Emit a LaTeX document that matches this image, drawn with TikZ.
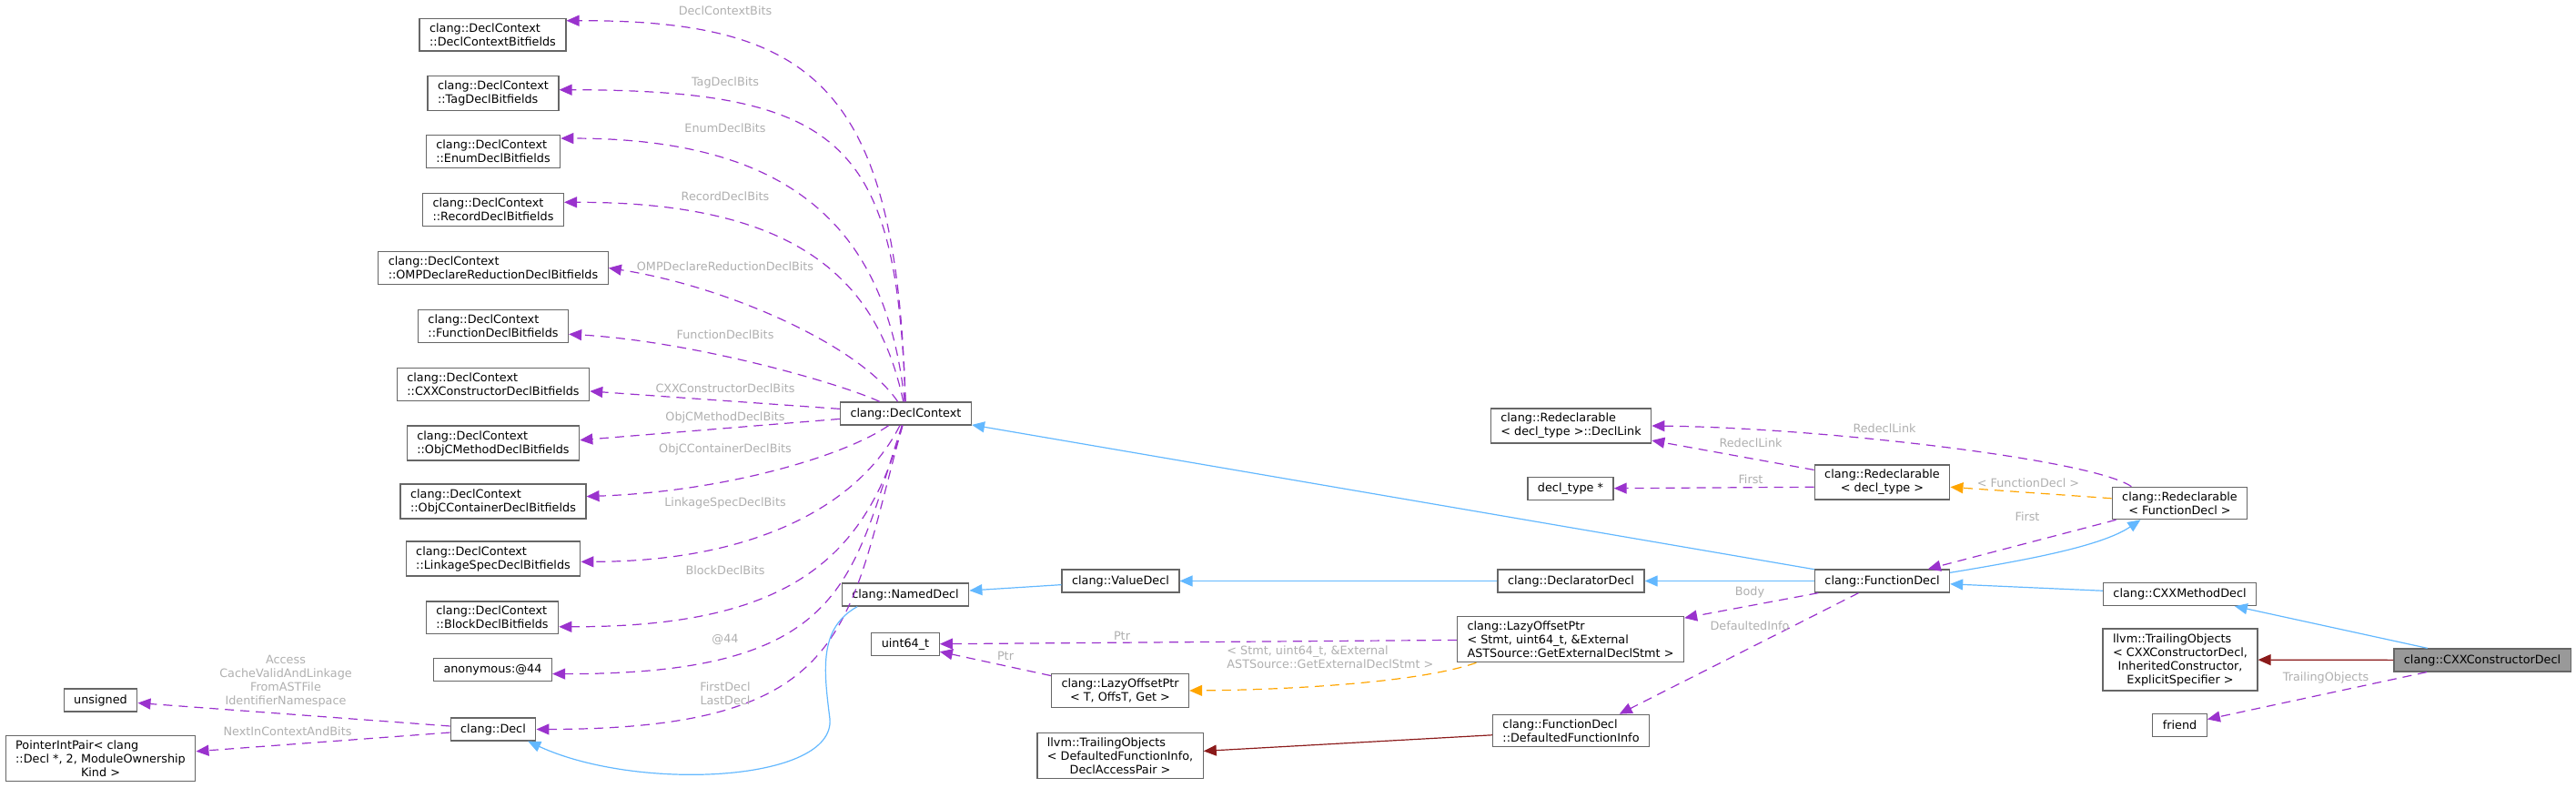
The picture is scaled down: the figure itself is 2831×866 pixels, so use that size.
\documentclass[tikz,border=0pt]{standalone}
\usepackage{fontspec}
\setmainfont{DejaVu Sans}
\usetikzlibrary{arrows.meta}
\definecolor{boxline}{RGB}{102,102,102}
\definecolor{hlfill}{RGB}{153,153,153}
\definecolor{usecol}{RGB}{154,50,205}
\definecolor{inhcol}{RGB}{99,184,255}
\definecolor{privcol}{RGB}{139,26,26}
\definecolor{tmplcol}{RGB}{255,165,0}
\definecolor{lblgray}{RGB}{175,175,175}
\newcommand{\midline}[1]{\hfill #1\hfill\null}
\begin{document}
\begin{tikzpicture}[x=0.5pt, y=-0.5pt,
    cls/.style={draw=boxline, line width=0.65pt, fill=white, font=\fontsize{6.4}{7.5}\selectfont,
      inner xsep=5.5pt, inner ysep=2.6pt, minimum height=12.5pt},
    hl/.style={cls, fill=hlfill},
    lbl/.style={text=lblgray, font=\fontsize{6.4}{7.5}\selectfont, inner sep=0pt},
    tip/.style={-{Triangle[length=7pt, width=6pt]}},
    usage/.style={tip, draw=usecol, line width=0.6pt, dash pattern=on 5pt off 3.5pt},
    inh/.style={tip, draw=inhcol, line width=0.6pt},
    priv/.style={tip, draw=privcol, line width=0.6pt},
    tmpl/.style={tip, draw=tmplcol, line width=0.6pt, dash pattern=on 5pt off 3.5pt}
  ]
  \useasboundingbox (0,0) rectangle (2831,866);

  \node[cls, align=left] (dcbf) at (541.5,38.5) {clang::DeclContext\\::DeclContextBitfields};
  \node[cls, align=left] (tagbf) at (542,102.5) {clang::DeclContext\\::TagDeclBitfields};
  \node[cls, align=left] (enumbf) at (542,166.5) {clang::DeclContext\\::EnumDeclBitfields};
  \node[cls, align=left] (recbf) at (542,230.5) {clang::DeclContext\\::RecordDeclBitfields};
  \node[cls, align=left] (ompbf) at (542,294.5) {clang::DeclContext\\::OMPDeclareReductionDeclBitfields};
  \node[cls, align=left] (funbf) at (542,358.5) {clang::DeclContext\\::FunctionDeclBitfields};
  \node[cls, align=left] (ctorbf) at (542,422.5) {clang::DeclContext\\::CXXConstructorDeclBitfields};
  \node[cls, align=left] (objcmbf) at (542,487) {clang::DeclContext\\::ObjCMethodDeclBitfields};
  \node[cls, align=left] (objccbf) at (542,551) {clang::DeclContext\\::ObjCContainerDeclBitfields};
  \node[cls, align=left] (linkbf) at (542,614) {clang::DeclContext\\::LinkageSpecDeclBitfields};
  \node[cls, align=left] (blockbf) at (541,678.5) {clang::DeclContext\\::BlockDeclBitfields};
  \node[cls] (anon) at (541.5,736) {anonymous:@44};
  \node[cls] (decl) at (542,801.5) {clang::Decl};
  \node[cls] (unsig) at (110.5,769.5) {unsigned};
  \node[cls, align=left] (pip) at (110.5,833.5) {PointerIntPair< clang\\::Decl *, 2, ModuleOwnership\\\midline{Kind >}};

  \node[cls] (dc) at (995.5,454.5) {clang::DeclContext};
  \node[cls] (named) at (995,653.5) {clang::NamedDecl};
  \node[cls] (u64) at (995,708) {uint64\_t};
  \node[cls] (value) at (1231.5,638.5) {clang::ValueDecl};
  \node[cls, align=center] (lopt) at (1231,759) {clang::LazyOffsetPtr\\< T, OffsT, Get >};
  \node[cls, align=left] (trdfi) at (1231,830.5) {llvm::TrailingObjects\\< DefaultedFunctionInfo,\\\midline{DeclAccessPair >}};

  \node[cls, align=left] (dlink) at (1726.5,468) {clang::Redeclarable\\< decl\_type >::DeclLink};
  \node[cls] (dtype) at (1726,537) {decl\_type *};
  \node[cls] (declr) at (1726.5,638.5) {clang::DeclaratorDecl};
  \node[cls, align=left] (lopstmt) at (1726,702.5) {clang::LazyOffsetPtr\\< Stmt, uint64\_t, \&External\\ASTSource::GetExternalDeclStmt >};
  \node[cls, align=left] (dfi) at (1726.5,803) {clang::FunctionDecl\\::DefaultedFunctionInfo};

  \node[cls, align=center] (redt) at (2068.5,530) {clang::Redeclarable\\< decl\_type >};
  \node[cls] (fd) at (2068.5,638.5) {clang::FunctionDecl};
  \node[cls, align=center] (redfd) at (2395.5,553) {clang::Redeclarable\\< FunctionDecl >};
  \node[cls] (cxxm) at (2395.5,653) {clang::CXXMethodDecl};
  \node[cls, align=left] (trctor) at (2396,725) {llvm::TrailingObjects\\< CXXConstructorDecl,\\\midline{InheritedConstructor,}\\\midline{ExplicitSpecifier >}};
  \node[cls] (friend) at (2395.5,797) {friend};
  \node[hl] (ctor) at (2728,725.5) {clang::CXXConstructorDecl};

  \draw[usage] (dc) .. controls (985,100) and (900,22) .. (dcbf.11);
  \draw[usage] (dc) .. controls (985,160) and (930,99) .. (tagbf.3);
  \draw[usage] (dc) .. controls (975,260) and (880,152) .. (enumbf.11);
  \draw[usage] (dc) .. controls (965,310) and (880,222) .. (recbf.6);
  \draw[usage] (dc) .. controls (945,380) and (800,315) .. (ompbf.east);
  \draw[usage] (dc) .. controls (920,420) and (760,375) .. (funbf.-6);
  \draw[usage] (dc) -- (ctorbf.-4);
  \draw[usage] (dc) -- (objcmbf.2);
  \draw[usage] (dc) .. controls (930,500) and (800,540) .. (objccbf.3);
  \draw[usage] (dc) .. controls (945,555) and (830,617) .. (linkbf.-2);
  \draw[usage] (dc) .. controls (950,620) and (860,689) .. (blockbf.-8);
  \draw[usage] (dc) .. controls (935,640) and (930,741) .. (anon.-4);
  \draw[usage] (dc) .. controls (930,690) and (940,801) .. (decl.east);
  \draw[usage] (decl) -- (unsig);
  \draw[usage] (decl) -- (pip);

  \node[lbl] (lDCB) at (797,12) {DeclContextBits};
  \node[lbl] (lTag) at (797,91) {TagDeclBits};
  \node[lbl] (lEnum) at (797,141) {EnumDeclBits};
  \node[lbl] (lRec) at (797,216) {RecordDeclBits};
  \node[lbl] (lOMP) at (797,293) {OMPDeclareReductionDeclBits};
  \node[lbl] (lFun) at (797,368) {FunctionDeclBits};
  \node[lbl] (lCtor) at (797,427) {CXXConstructorDeclBits};
  \node[lbl] (lObjM) at (797,459) {ObjCMethodDeclBits};
  \node[lbl] (lObjC) at (797,494) {ObjCContainerDeclBits};
  \node[lbl] (lLink) at (797,553) {LinkageSpecDeclBits};
  \node[lbl] (lBlock) at (797,627) {BlockDeclBits};
  \node[lbl] (lAnon) at (797,703) {@44};
  \node[lbl, align=center] (lFirstD) at (797,762) {FirstDecl\\LastDecl};
  \node[lbl, align=center] (lAcc) at (314,749) {Access\\CacheValidAndLinkage\\FromASTFile\\IdentifierNamespace};
  \node[lbl] (lNext) at (316,804) {NextInContextAndBits};

  \draw[inh] (named.-166) .. controls (900,690) and (905,735) .. (912,790)
    .. controls (918,860) and (700,870) .. (decl.-19);
  \draw[inh] (value) -- (named);
  \draw[inh] (declr) -- (value);
  \draw[inh] (fd) -- (declr);
  \draw[inh] (fd) -- (dc);
  \draw[inh] (fd.7) .. controls (2230,615) and (2310,600) .. (redfd.-157);
  \draw[inh] (cxxm) -- (fd);
  \draw[inh] (ctor) -- (cxxm);

  \draw[priv] (ctor) -- (trctor);
  \draw[priv] (dfi) -- (trdfi);

  \draw[tmpl] (redfd) -- (redt);
  \draw[tmpl] (lopstmt.-166) .. controls (1560,750) and (1420,758) .. (lopt.east);

  \draw[usage] (redfd.161) .. controls (2300,505) and (2000,470) .. (dlink.east);
  \draw[usage] (redt) -- (dlink);
  \draw[usage] (redt.-176) -- (dtype);
  \draw[usage] (redfd) -- (fd);
  \draw[usage] (fd) -- (lopstmt);
  \draw[usage] (fd) -- (dfi.19);
  \draw[usage] (lopstmt) -- (u64);
  \draw[usage] (lopt) -- (u64);
  \draw[usage] (ctor) -- (friend);

  \node[lbl] (lRL1) at (2071,471) {RedeclLink};
  \node[lbl] (lRL2) at (1924,487) {RedeclLink};
  \node[lbl] (lFirst2) at (1924,527) {First};
  \node[lbl] (lTmplFD) at (2229,531) {< FunctionDecl >};
  \node[lbl] (lFirst3) at (2228,568) {First};
  \node[lbl] (lBody) at (1923,651) {Body};
  \node[lbl] (lDef) at (1923,688) {DefaultedInfo};
  \node[lbl] (lPtr1) at (1233,699) {Ptr};
  \node[lbl] (lPtr2) at (1105,721) {Ptr};
  \node[lbl, align=left, anchor=west] (lTmplS) at (1348,722.5) {< Stmt, uint64\_t, \&External\\ASTSource::GetExternalDeclStmt >};
  \node[lbl] (lTrail) at (2556,745) {TrailingObjects};
\end{tikzpicture}
\end{document}
